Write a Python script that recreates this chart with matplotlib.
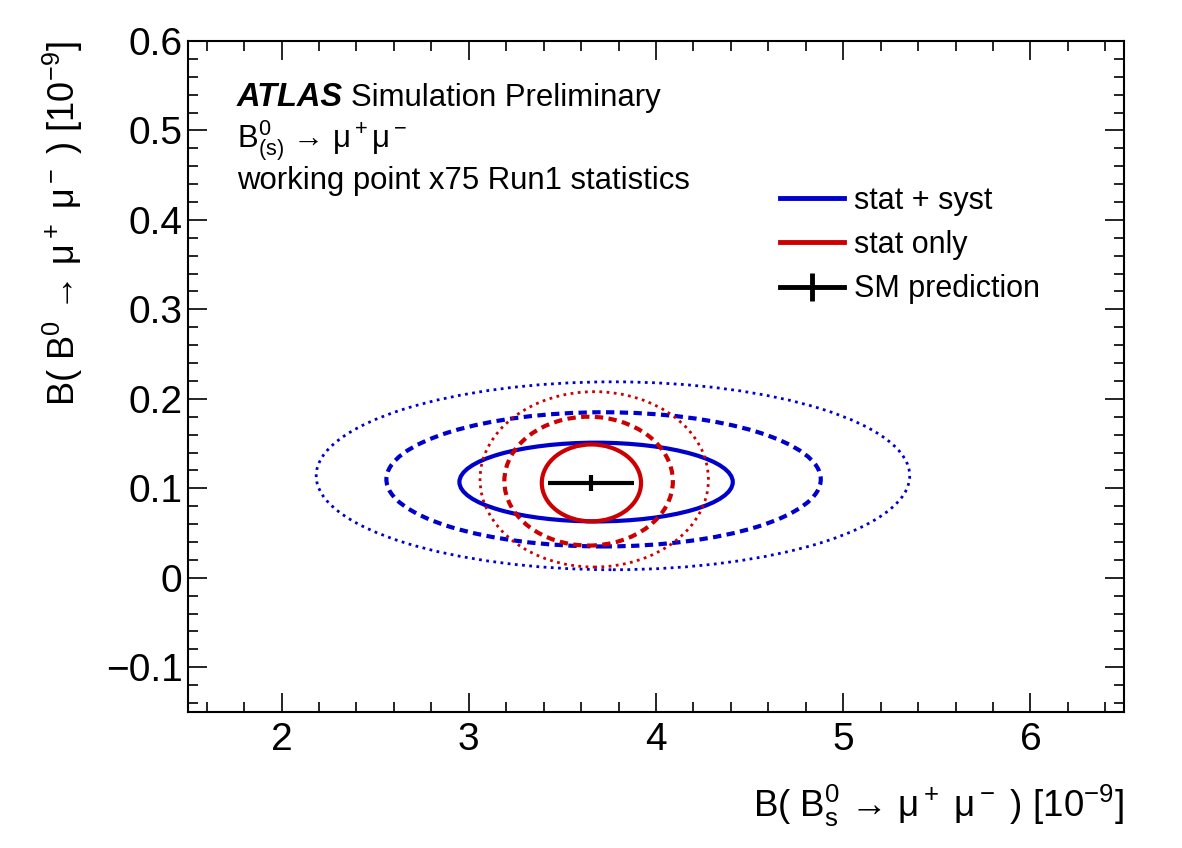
import matplotlib.pyplot as plt
from matplotlib.patches import Ellipse
from matplotlib.lines import Line2D
from matplotlib.ticker import MultipleLocator

plt.rcParams['font.family'] = ['Liberation Sans', 'DejaVu Sans']
plt.rcParams['mathtext.fontset'] = 'custom'
plt.rcParams['mathtext.rm'] = 'Liberation Sans'
plt.rcParams['mathtext.it'] = 'Liberation Sans:italic'
plt.rcParams['mathtext.bf'] = 'Liberation Sans:bold'

# contornos: (centro x, centro y, semiancho x, semiancho y)
contour_names = ['syst 1s', 'syst 2s', 'syst 3s', 'stat 1s', 'stat 2s', 'stat 3s']
center_x = [3.68, 3.72, 3.77, 3.655, 3.64, 3.67]
center_y = [0.107, 0.110, 0.114, 0.106, 0.108, 0.110]
half_x = [0.73, 1.16, 1.585, 0.265, 0.45, 0.61]
half_y = [0.044, 0.075, 0.105, 0.043, 0.072, 0.098]
colors = ['#0000cc', '#0000cc', '#0000cc', '#cc0000', '#cc0000', '#cc0000']
styles = ['-', (0, (2.0, 1.3)), (0, (1.0, 1.6)), '-', (0, (2.0, 1.3)), (0, (1.0, 1.6))]
widths = [3.0, 3.0, 2.0, 3.0, 3.0, 2.0]

# prediccion SM
sm_x = 3.655
sm_y = 0.106
sm_xerr = 0.23
sm_yerr = 0.009

legend_labels = ['stat + syst', 'stat only', 'SM prediction']

fig = plt.figure(figsize=(11.82, 8.48), dpi=100)
ax = fig.add_axes([0.159, 0.1604, 0.792, 0.7913])

for i in range(len(contour_names)):
    e = Ellipse((center_x[i], center_y[i]), 2 * half_x[i], 2 * half_y[i],
                fill=False, edgecolor=colors[i], linestyle=styles[i],
                linewidth=widths[i])
    ax.add_patch(e)

ax.errorbar([sm_x], [sm_y], xerr=[sm_xerr], yerr=[sm_yerr], fmt='none',
            ecolor='black', elinewidth=3, capsize=0)

ax.set_xlim(1.5, 6.5)
ax.set_ylim(-0.15, 0.6)

ax.xaxis.set_major_locator(MultipleLocator(1))
ax.xaxis.set_minor_locator(MultipleLocator(0.2))
ax.yaxis.set_major_locator(MultipleLocator(0.1))
ax.yaxis.set_minor_locator(MultipleLocator(0.02))
ax.tick_params(which='both', direction='in', top=True, right=True, width=1.2)
ax.tick_params(which='major', length=14, labelsize=28)
ax.tick_params(which='minor', length=7)
ax.tick_params(axis='x', which='major', pad=7)
ax.tick_params(axis='y', which='major', pad=4)
for s in ax.spines.values():
    s.set_linewidth(1.5)

ax.set_yticks([-0.1, 0, 0.1, 0.2, 0.3, 0.4, 0.5, 0.6])
ax.set_yticklabels(['\u22120.1', '0', '0.1', '0.2', '0.3', '0.4', '0.5', '0.6'])

xl = ax.set_xlabel(r'B( B$_\mathrm{s}^0$ → μ$^+$ μ$^-$ ) [10$^{-9}$]',
                   fontsize=26.5, ha='right', va='top')
ax.xaxis.set_label_coords(1.0, -0.105)
yl = ax.set_ylabel(r'B( B$^0$ → μ$^+$ μ$^-$ ) [10$^{-9}$]',
                   fontsize=26, ha='right', va='center')
ax.yaxis.set_label_coords(-0.134, 1.0)

# textos
t1 = ax.text(0.052, 0.915, 'ATLAS', transform=ax.transAxes, fontsize=23.5,
             fontweight='bold', fontstyle='italic', va='center')
fig.canvas.draw()
bb = t1.get_window_extent().transformed(ax.transAxes.inverted())
ax.text(bb.x1 + 0.009, 0.915, 'Simulation Preliminary', transform=ax.transAxes,
        fontsize=22.4, va='center')
ax.text(0.052, 0.852, r'B$^0_{(\mathrm{s})}$ → μ$^+$μ$^-$',
        transform=ax.transAxes, fontsize=22.4, va='center')
ax.text(0.052, 0.791, 'working point x75 Run1 statistics',
        transform=ax.transAxes, fontsize=22.4, va='center')

# leyenda
handles = [Line2D([], [], color='#0000cc', lw=3.5),
           Line2D([], [], color='#cc0000', lw=3.5),
           Line2D([], [], color='black', lw=3.5, marker='|', markersize=20,
                  markeredgewidth=3.5)]
leg = ax.legend(handles, legend_labels,
                loc='center left', bbox_to_anchor=(0.632, 0.696), frameon=False,
                fontsize=22, handlelength=2.12, handletextpad=0.33,
                labelspacing=0.47, borderpad=0, borderaxespad=0)

fig.savefig('out.png', dpi=100)
